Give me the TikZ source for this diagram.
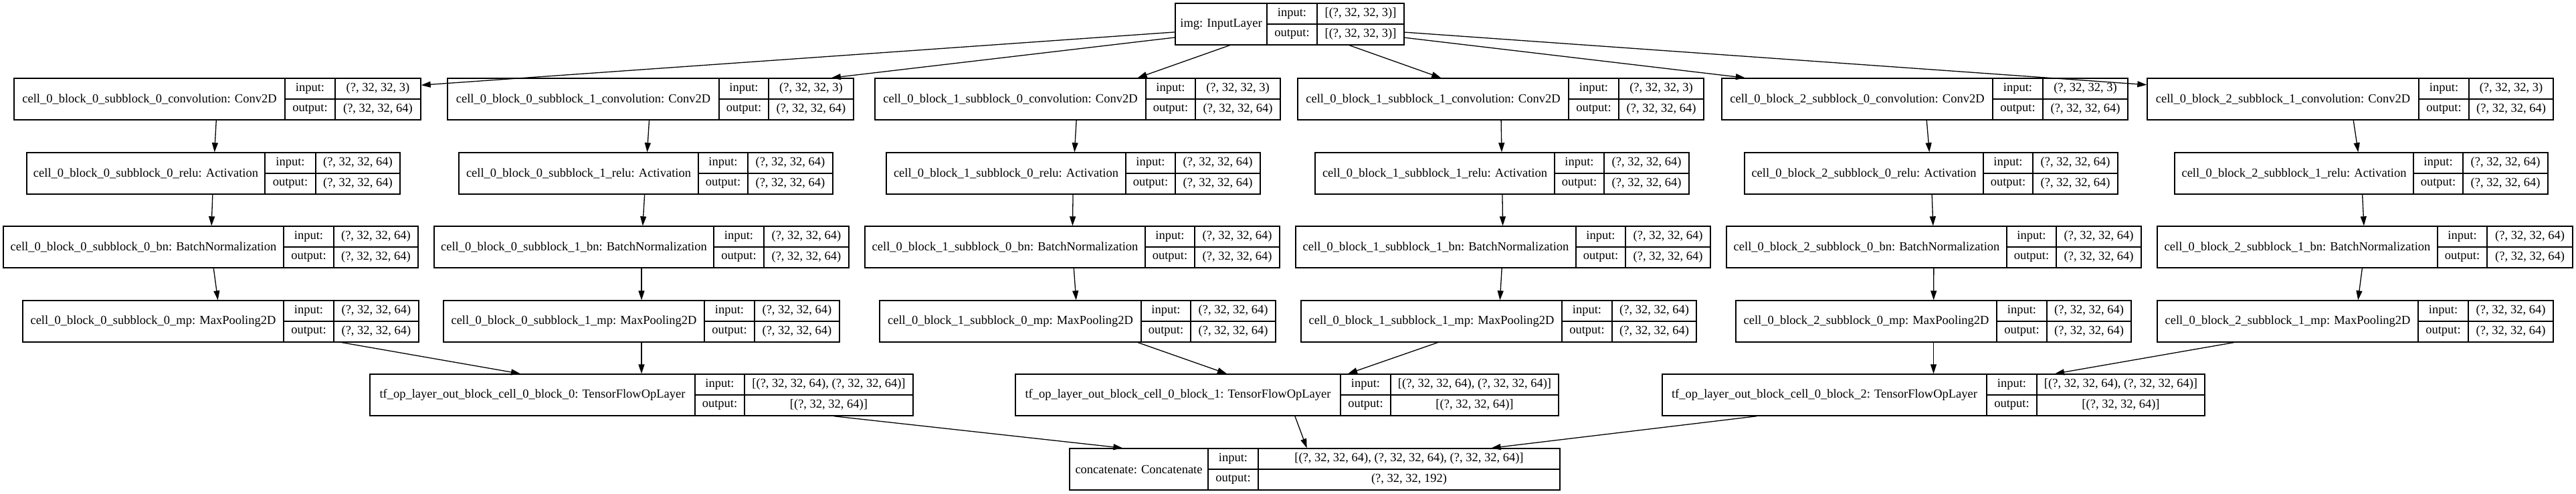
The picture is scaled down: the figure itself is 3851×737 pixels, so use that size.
\documentclass[tikz,border=0pt]{standalone}
\usepackage{fontspec}
\setmainfont{Liberation Serif}
\usetikzlibrary{arrows.meta}
\tikzset{
    layerbox/.style={draw, line width=1.4pt, inner sep=0pt, minimum height=62pt},
    cell/.style={font=\fontsize{18.5}{20}\selectfont, inner sep=0pt},
    split/.style={line width=1.2pt},
    flow/.style={line width=1.3pt, -{Triangle[length=14pt, width=9pt]}},
}
% one record: name, left, first split, second split, right, top, label, input, output
\newcommand{\layer}[9]{%
    \node[layerbox, minimum width={#5-#2}] (#1) at ({(#2+#5)/2}, {#6+31}) {};
    \draw[split] (#3,#6) -- (#3,{#6+62});
    \draw[split] (#4,#6) -- (#4,{#6+62});
    \draw[split] (#3,{#6+31}) -- (#5,{#6+31});
    \node[cell] (#1-name) at ({(#2+#3)/2}, {#6+31}) {\detokenize{#7}};
    \node[cell] (#1-in) at ({(#3+#4)/2}, {#6+15.5}) {input:};
    \node[cell] (#1-out) at ({(#3+#4)/2}, {#6+46.5}) {output:};
    \node[cell] (#1-inval) at ({(#4+#5)/2}, {#6+15.5}) {#8};
    \node[cell] (#1-outval) at ({(#4+#5)/2}, {#6+46.5}) {#9};
}

\begin{document}
\begin{tikzpicture}[x=1pt, y=-1pt]
    \useasboundingbox (0,0) rectangle (3851,737);

    \layer{img}{1757}{1894}{1969}{2099}{5}{img: InputLayer}{[(?, 32, 32, 3)]}{[(?, 32, 32, 3)]}

    % block 0
    \layer{conv00}{21}{426}{501}{629}{117}{cell_0_block_0_subblock_0_convolution: Conv2D}{(?, 32, 32, 3)}{(?, 32, 32, 64)}
    \layer{relu00}{40}{396}{472}{598}{228}{cell_0_block_0_subblock_0_relu: Activation}{(?, 32, 32, 64)}{(?, 32, 32, 64)}
    \layer{bn00}{5}{424}{499}{625}{338}{cell_0_block_0_subblock_0_bn: BatchNormalization}{(?, 32, 32, 64)}{(?, 32, 32, 64)}
    \layer{mp00}{34}{424}{499}{626}{449}{cell_0_block_0_subblock_0_mp: MaxPooling2D}{(?, 32, 32, 64)}{(?, 32, 32, 64)}

    \layer{conv01}{669}{1075}{1149}{1276}{117}{cell_0_block_0_subblock_1_convolution: Conv2D}{(?, 32, 32, 3)}{(?, 32, 32, 64)}
    \layer{relu01}{686}{1044}{1118}{1245}{228}{cell_0_block_0_subblock_1_relu: Activation}{(?, 32, 32, 64)}{(?, 32, 32, 64)}
    \layer{bn01}{649}{1067}{1142}{1269}{338}{cell_0_block_0_subblock_1_bn: BatchNormalization}{(?, 32, 32, 64)}{(?, 32, 32, 64)}
    \layer{mp01}{663}{1053}{1128}{1255}{449}{cell_0_block_0_subblock_1_mp: MaxPooling2D}{(?, 32, 32, 64)}{(?, 32, 32, 64)}

    % block 1
    \layer{conv10}{1308}{1713}{1787}{1914}{117}{cell_0_block_1_subblock_0_convolution: Conv2D}{(?, 32, 32, 3)}{(?, 32, 32, 64)}
    \layer{relu10}{1325}{1683}{1757}{1884}{228}{cell_0_block_1_subblock_0_relu: Activation}{(?, 32, 32, 64)}{(?, 32, 32, 64)}
    \layer{bn10}{1293}{1712}{1786}{1913}{338}{cell_0_block_1_subblock_0_bn: BatchNormalization}{(?, 32, 32, 64)}{(?, 32, 32, 64)}
    \layer{mp10}{1315}{1706}{1780}{1907}{449}{cell_0_block_1_subblock_0_mp: MaxPooling2D}{(?, 32, 32, 64)}{(?, 32, 32, 64)}

    \layer{conv11}{1940}{2345}{2420}{2547}{117}{cell_0_block_1_subblock_1_convolution: Conv2D}{(?, 32, 32, 3)}{(?, 32, 32, 64)}
    \layer{relu11}{1966}{2324}{2398}{2525}{228}{cell_0_block_1_subblock_1_relu: Activation}{(?, 32, 32, 64)}{(?, 32, 32, 64)}
    \layer{bn11}{1937}{2356}{2430}{2557}{338}{cell_0_block_1_subblock_1_bn: BatchNormalization}{(?, 32, 32, 64)}{(?, 32, 32, 64)}
    \layer{mp11}{1945}{2335}{2410}{2536}{449}{cell_0_block_1_subblock_1_mp: MaxPooling2D}{(?, 32, 32, 64)}{(?, 32, 32, 64)}

    % block 2
    \layer{conv20}{2574}{2979}{3054}{3181}{117}{cell_0_block_2_subblock_0_convolution: Conv2D}{(?, 32, 32, 3)}{(?, 32, 32, 64)}
    \layer{relu20}{2608}{2965}{3039}{3166}{228}{cell_0_block_2_subblock_0_relu: Activation}{(?, 32, 32, 64)}{(?, 32, 32, 64)}
    \layer{bn20}{2581}{3000}{3074}{3201}{338}{cell_0_block_2_subblock_0_bn: BatchNormalization}{(?, 32, 32, 64)}{(?, 32, 32, 64)}
    \layer{mp20}{2595}{2985}{3060}{3186}{449}{cell_0_block_2_subblock_0_mp: MaxPooling2D}{(?, 32, 32, 64)}{(?, 32, 32, 64)}

    \layer{conv21}{3210}{3616}{3691}{3817}{117}{cell_0_block_2_subblock_1_convolution: Conv2D}{(?, 32, 32, 3)}{(?, 32, 32, 64)}
    \layer{relu21}{3251}{3608}{3682}{3809}{228}{cell_0_block_2_subblock_1_relu: Activation}{(?, 32, 32, 64)}{(?, 32, 32, 64)}
    \layer{bn21}{3225}{3644}{3718}{3846}{338}{cell_0_block_2_subblock_1_bn: BatchNormalization}{(?, 32, 32, 64)}{(?, 32, 32, 64)}
    \layer{mp21}{3225}{3615}{3690}{3817}{449}{cell_0_block_2_subblock_1_mp: MaxPooling2D}{(?, 32, 32, 64)}{(?, 32, 32, 64)}

    % block outputs and concat
    \layer{out0}{553}{1039}{1113}{1365}{559}{tf_op_layer_out_block_cell_0_block_0: TensorFlowOpLayer}{[(?, 32, 32, 64), (?, 32, 32, 64)]}{[(?, 32, 32, 64)]}
    \layer{out1}{1518}{2004}{2079}{2330}{559}{tf_op_layer_out_block_cell_0_block_1: TensorFlowOpLayer}{[(?, 32, 32, 64), (?, 32, 32, 64)]}{[(?, 32, 32, 64)]}
    \layer{out2}{2485}{2970}{3045}{3296}{559}{tf_op_layer_out_block_cell_0_block_2: TensorFlowOpLayer}{[(?, 32, 32, 64), (?, 32, 32, 64)]}{[(?, 32, 32, 64)]}
    \layer{cat}{1599}{1806}{1881}{2332}{670}{concatenate: Concatenate}{[(?, 32, 32, 64), (?, 32, 32, 64), (?, 32, 32, 64)]}{(?, 32, 32, 192)}

    \draw[flow] (img) -- (conv00);
    \draw[flow] (img) -- (conv01);
    \draw[flow] (img) -- (conv10);
    \draw[flow] (img) -- (conv11);
    \draw[flow] (img) -- (conv20);
    \draw[flow] (img) -- (conv21);

    \draw[flow] (conv00) -- (relu00);
    \draw[flow] (relu00) -- (bn00);
    \draw[flow] (bn00) -- (mp00);
    \draw[flow] (conv01) -- (relu01);
    \draw[flow] (relu01) -- (bn01);
    \draw[flow] (bn01) -- (mp01);
    \draw[flow] (conv10) -- (relu10);
    \draw[flow] (relu10) -- (bn10);
    \draw[flow] (bn10) -- (mp10);
    \draw[flow] (conv11) -- (relu11);
    \draw[flow] (relu11) -- (bn11);
    \draw[flow] (bn11) -- (mp11);
    \draw[flow] (conv20) -- (relu20);
    \draw[flow] (relu20) -- (bn20);
    \draw[flow] (bn20) -- (mp20);
    \draw[flow] (conv21) -- (relu21);
    \draw[flow] (relu21) -- (bn21);
    \draw[flow] (bn21) -- (mp21);

    \draw[flow] (mp00) -- (out0);
    \draw[flow] (mp01) -- (out0);
    \draw[flow] (mp10) -- (out1);
    \draw[flow] (mp11) -- (out1);
    \draw[flow] (mp20) -- (out2);
    \draw[flow] (mp21) -- (out2);

    \draw[flow] (out0) -- (cat);
    \draw[flow] (out1) -- (cat);
    \draw[flow] (out2) -- (cat);
\end{tikzpicture}
\end{document}
